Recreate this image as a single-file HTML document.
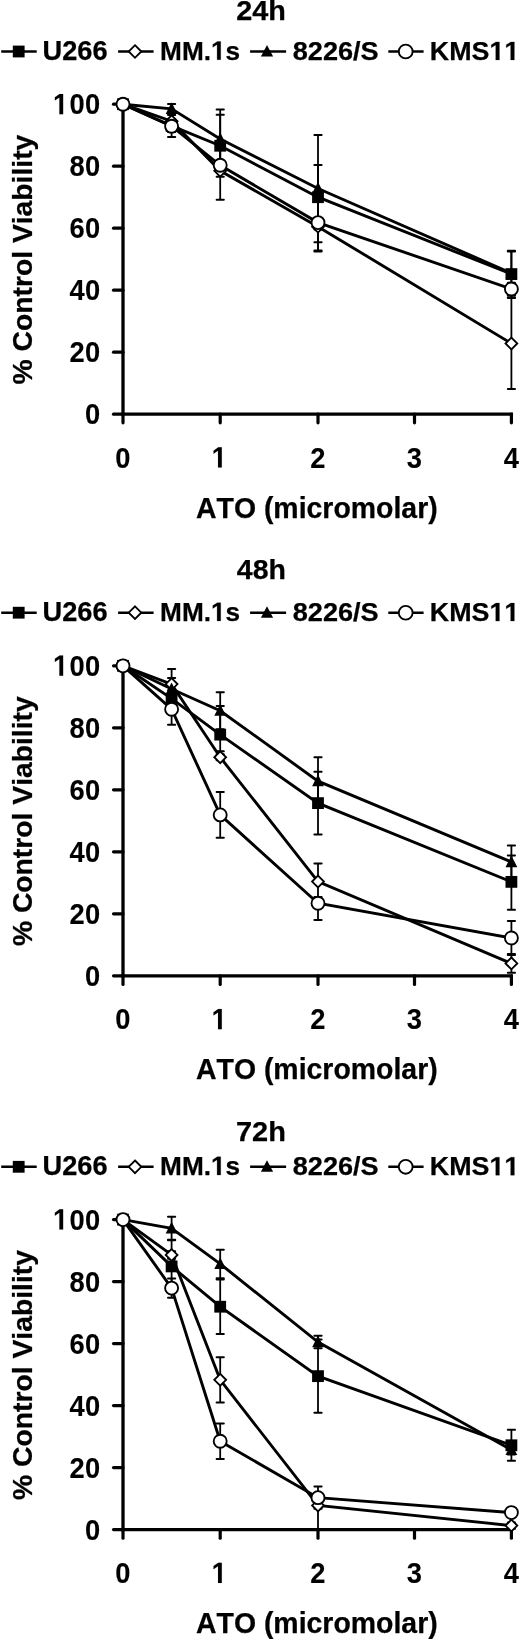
<!DOCTYPE html>
<html><head><meta charset="utf-8"><title>ATO viability</title><style>
html,body{margin:0;padding:0;background:#fff;}
body{width:520px;height:1639px;overflow:hidden;}
svg{display:block;will-change:transform;}
text{font-family:"Liberation Sans",sans-serif;font-weight:bold;fill:#000;stroke:#000;stroke-width:0.25;stroke-linejoin:round;font-kerning:none;}
line,polyline{stroke:#000;}
rect,path{fill:#000;}
.o{fill:#fff;stroke:#000;stroke-width:1.85;}
rect.c{fill:#fff;}
.h{fill:none;stroke:none;}
text.d,path.g.gd{stroke-width:0.1;}
path.g{fill:#000;stroke:#000;stroke-width:0.25;stroke-linejoin:round;vector-effect:non-scaling-stroke;}
</style></head><body>
<svg width="520" height="1639" viewBox="0 0 520 1639">
<rect class="c" width="520" height="1639"/>
<text x="236.25" y="20.35" font-size="27.46" textLength="49.69" lengthAdjust="spacingAndGlyphs">24h</text>
<line x1="1.2" y1="51.5" x2="36.7" y2="51.5" stroke-width="2.5"/>
<rect x="12.80" y="45.60" width="11.80" height="11.80"/>
<text x="42.62" y="59.69" font-size="26.84" textLength="65.02" lengthAdjust="spacingAndGlyphs">U266</text>
<line x1="118.1" y1="51.5" x2="153.6" y2="51.5" stroke-width="2.5"/>
<path class="o" d="M135.00 45.20L141.30 51.50L135.00 57.80L128.70 51.50Z"/>
<text x="160.10" y="59.69" font-size="26.51" textLength="80.03" lengthAdjust="spacingAndGlyphs">MM.<tspan class="h">1</tspan>s</text>
<line x1="250.1" y1="51.5" x2="286.1" y2="51.5" stroke-width="2.5"/>
<path d="M267.00 45.06L273.10 56.56L260.90 56.56Z"/>
<text x="292.79" y="59.64" font-size="25.25" textLength="85.92" lengthAdjust="spacingAndGlyphs">8226/S</text>
<line x1="388.3" y1="51.5" x2="423.6" y2="51.5" stroke-width="2.5"/>
<circle class="o" cx="405.70" cy="51.50" r="6.90"/>
<text x="429.86" y="59.89" font-size="26.13" textLength="89.47" lengthAdjust="spacingAndGlyphs">KMS<tspan class="h">1</tspan><tspan class="h">1</tspan></text>
<line x1="123.0" y1="103.20" x2="123.0" y2="415.85" stroke-width="3.3"/>
<line x1="121.35" y1="414.20" x2="513.05" y2="414.20" stroke-width="3.3"/>
<line x1="113.50" y1="414.20" x2="123.0" y2="414.20" stroke-width="3.2" stroke-linecap="round"/>
<text class="d" transform="matrix(0.93 0 0 1 0 0)" x="91.29" y="424.20" font-size="29.40">0</text>
<line x1="113.50" y1="352.20" x2="123.0" y2="352.20" stroke-width="3.2" stroke-linecap="round"/>
<text class="d" transform="matrix(0.93 0 0 1 0 0)" x="74.62 91.29" y="362.20" font-size="29.40">20</text>
<line x1="113.50" y1="290.20" x2="123.0" y2="290.20" stroke-width="3.2" stroke-linecap="round"/>
<text class="d" transform="matrix(0.93 0 0 1 0 0)" x="74.62 91.29" y="300.20" font-size="29.40">40</text>
<line x1="113.50" y1="228.20" x2="123.0" y2="228.20" stroke-width="3.2" stroke-linecap="round"/>
<text class="d" transform="matrix(0.93 0 0 1 0 0)" x="74.62 91.29" y="238.20" font-size="29.40">60</text>
<line x1="113.50" y1="166.20" x2="123.0" y2="166.20" stroke-width="3.2" stroke-linecap="round"/>
<text class="d" transform="matrix(0.93 0 0 1 0 0)" x="74.62 91.29" y="176.20" font-size="29.40">80</text>
<line x1="113.50" y1="104.20" x2="123.0" y2="104.20" stroke-width="3.2" stroke-linecap="round"/>
<text class="d" transform="matrix(0.93 0 0 1 0 0)" x="56.99 74.62 91.29" y="114.20" font-size="29.40"><tspan class="h">1</tspan>00</text>
<line x1="123.00" y1="414.20" x2="123.00" y2="422.80" stroke-width="3.2" stroke-linecap="round"/>
<text class="d" transform="matrix(0.93 0 0 1 0 0)" x="124.03" y="467.60" font-size="29.40">0</text>
<line x1="220.20" y1="414.20" x2="220.20" y2="422.80" stroke-width="3.2" stroke-linecap="round"/>
<text class="d" transform="matrix(0.93 0 0 1 0 0)" x="227.58" y="467.60" font-size="29.40"><tspan class="h">1</tspan></text>
<line x1="318.00" y1="414.20" x2="318.00" y2="422.80" stroke-width="3.2" stroke-linecap="round"/>
<text class="d" transform="matrix(0.93 0 0 1 0 0)" x="333.71" y="467.60" font-size="29.40">2</text>
<line x1="414.50" y1="414.20" x2="414.50" y2="422.80" stroke-width="3.2" stroke-linecap="round"/>
<text class="d" transform="matrix(0.93 0 0 1 0 0)" x="437.47" y="467.60" font-size="29.40">3</text>
<line x1="511.40" y1="414.20" x2="511.40" y2="422.80" stroke-width="3.2" stroke-linecap="round"/>
<text class="d" transform="matrix(0.93 0 0 1 0 0)" x="541.67" y="467.60" font-size="29.40">4</text>
<text x="195.99" y="517.70" font-size="28.60" textLength="241.72" lengthAdjust="spacingAndGlyphs">ATO (micromolar)</text>
<text transform="translate(31.6 259.60) rotate(-90)" x="-124.93" y="0" font-size="28.3" textLength="249.86" lengthAdjust="spacingAndGlyphs">% Control Viability</text>
<line x1="171.60" y1="119.70" x2="171.60" y2="132.10" stroke-width="1.8"/>
<line x1="168.00" y1="119.70" x2="175.20" y2="119.70" stroke-width="2.0" stroke-linecap="round"/>
<line x1="168.00" y1="132.10" x2="175.20" y2="132.10" stroke-width="2.0" stroke-linecap="round"/>
<line x1="220.20" y1="114.74" x2="220.20" y2="176.74" stroke-width="1.8"/>
<line x1="216.60" y1="114.74" x2="223.80" y2="114.74" stroke-width="2.0" stroke-linecap="round"/>
<line x1="216.60" y1="176.74" x2="223.80" y2="176.74" stroke-width="2.0" stroke-linecap="round"/>
<line x1="318.00" y1="164.96" x2="318.00" y2="229.44" stroke-width="1.8"/>
<line x1="314.40" y1="164.96" x2="321.60" y2="164.96" stroke-width="2.0" stroke-linecap="round"/>
<line x1="314.40" y1="229.44" x2="321.60" y2="229.44" stroke-width="2.0" stroke-linecap="round"/>
<line x1="511.40" y1="250.83" x2="511.40" y2="297.33" stroke-width="1.8"/>
<line x1="507.80" y1="250.83" x2="515.00" y2="250.83" stroke-width="2.0" stroke-linecap="round"/>
<line x1="507.80" y1="297.33" x2="515.00" y2="297.33" stroke-width="2.0" stroke-linecap="round"/>
<line x1="171.60" y1="115.05" x2="171.60" y2="127.45" stroke-width="1.8"/>
<line x1="168.00" y1="115.05" x2="175.20" y2="115.05" stroke-width="2.0" stroke-linecap="round"/>
<line x1="168.00" y1="127.45" x2="175.20" y2="127.45" stroke-width="2.0" stroke-linecap="round"/>
<line x1="220.20" y1="142.02" x2="220.20" y2="199.68" stroke-width="1.8"/>
<line x1="216.60" y1="142.02" x2="223.80" y2="142.02" stroke-width="2.0" stroke-linecap="round"/>
<line x1="216.60" y1="199.68" x2="223.80" y2="199.68" stroke-width="2.0" stroke-linecap="round"/>
<line x1="318.00" y1="201.85" x2="318.00" y2="251.45" stroke-width="1.8"/>
<line x1="314.40" y1="201.85" x2="321.60" y2="201.85" stroke-width="2.0" stroke-linecap="round"/>
<line x1="314.40" y1="251.45" x2="321.60" y2="251.45" stroke-width="2.0" stroke-linecap="round"/>
<line x1="511.40" y1="297.95" x2="511.40" y2="389.09" stroke-width="1.8"/>
<line x1="507.80" y1="297.95" x2="515.00" y2="297.95" stroke-width="2.0" stroke-linecap="round"/>
<line x1="507.80" y1="389.09" x2="515.00" y2="389.09" stroke-width="2.0" stroke-linecap="round"/>
<line x1="171.60" y1="103.89" x2="171.60" y2="113.81" stroke-width="1.8"/>
<line x1="168.00" y1="103.89" x2="175.20" y2="103.89" stroke-width="2.0" stroke-linecap="round"/>
<line x1="168.00" y1="113.81" x2="175.20" y2="113.81" stroke-width="2.0" stroke-linecap="round"/>
<line x1="220.20" y1="109.47" x2="220.20" y2="168.37" stroke-width="1.8"/>
<line x1="216.60" y1="109.47" x2="223.80" y2="109.47" stroke-width="2.0" stroke-linecap="round"/>
<line x1="216.60" y1="168.37" x2="223.80" y2="168.37" stroke-width="2.0" stroke-linecap="round"/>
<line x1="318.00" y1="134.89" x2="318.00" y2="242.15" stroke-width="1.8"/>
<line x1="314.40" y1="134.89" x2="321.60" y2="134.89" stroke-width="2.0" stroke-linecap="round"/>
<line x1="314.40" y1="242.15" x2="321.60" y2="242.15" stroke-width="2.0" stroke-linecap="round"/>
<line x1="511.40" y1="251.45" x2="511.40" y2="294.85" stroke-width="1.8"/>
<line x1="507.80" y1="251.45" x2="515.00" y2="251.45" stroke-width="2.0" stroke-linecap="round"/>
<line x1="507.80" y1="294.85" x2="515.00" y2="294.85" stroke-width="2.0" stroke-linecap="round"/>
<line x1="171.60" y1="119.08" x2="171.60" y2="137.06" stroke-width="1.8"/>
<line x1="168.00" y1="119.08" x2="175.20" y2="119.08" stroke-width="2.0" stroke-linecap="round"/>
<line x1="168.00" y1="137.06" x2="175.20" y2="137.06" stroke-width="2.0" stroke-linecap="round"/>
<line x1="220.20" y1="160.62" x2="220.20" y2="169.92" stroke-width="1.8"/>
<line x1="216.60" y1="160.62" x2="223.80" y2="160.62" stroke-width="2.0" stroke-linecap="round"/>
<line x1="216.60" y1="169.92" x2="223.80" y2="169.92" stroke-width="2.0" stroke-linecap="round"/>
<line x1="318.00" y1="194.72" x2="318.00" y2="250.52" stroke-width="1.8"/>
<line x1="314.40" y1="194.72" x2="321.60" y2="194.72" stroke-width="2.0" stroke-linecap="round"/>
<line x1="314.40" y1="250.52" x2="321.60" y2="250.52" stroke-width="2.0" stroke-linecap="round"/>
<line x1="511.40" y1="282.76" x2="511.40" y2="295.16" stroke-width="1.8"/>
<line x1="507.80" y1="282.76" x2="515.00" y2="282.76" stroke-width="2.0" stroke-linecap="round"/>
<line x1="507.80" y1="295.16" x2="515.00" y2="295.16" stroke-width="2.0" stroke-linecap="round"/>
<polyline points="123.00,104.20 171.60,125.90 220.20,145.74 318.00,197.20 511.40,274.08" fill="none" stroke-width="2.9"/>
<polyline points="123.00,104.20 171.60,121.25 220.20,170.85 318.00,226.65 511.40,343.52" fill="none" stroke-width="2.9"/>
<polyline points="123.00,104.20 171.60,108.85 220.20,138.92 318.00,188.52 511.40,273.15" fill="none" stroke-width="2.9"/>
<polyline points="123.00,104.20 171.60,126.21 220.20,165.27 318.00,222.62 511.40,288.96" fill="none" stroke-width="2.9"/>
<rect x="117.10" y="98.30" width="11.80" height="11.80"/>
<rect x="165.70" y="120.00" width="11.80" height="11.80"/>
<rect x="214.30" y="139.84" width="11.80" height="11.80"/>
<rect x="312.10" y="191.30" width="11.80" height="11.80"/>
<rect x="505.50" y="268.18" width="11.80" height="11.80"/>
<path class="o" d="M123.00 98.30L128.90 104.20L123.00 110.10L117.10 104.20Z"/>
<path class="o" d="M171.60 115.35L177.50 121.25L171.60 127.15L165.70 121.25Z"/>
<path class="o" d="M220.20 164.95L226.10 170.85L220.20 176.75L214.30 170.85Z"/>
<path class="o" d="M318.00 220.75L323.90 226.65L318.00 232.55L312.10 226.65Z"/>
<path class="o" d="M511.40 337.62L517.30 343.52L511.40 349.42L505.50 343.52Z"/>
<path d="M123.00 97.70L128.90 109.30L117.10 109.30Z"/>
<path d="M171.60 102.35L177.50 113.95L165.70 113.95Z"/>
<path d="M220.20 132.42L226.10 144.02L214.30 144.02Z"/>
<path d="M318.00 182.02L323.90 193.62L312.10 193.62Z"/>
<path d="M511.40 266.65L517.30 278.25L505.50 278.25Z"/>
<circle class="o" cx="123.00" cy="104.20" r="6.50"/>
<circle class="o" cx="171.60" cy="126.21" r="6.50"/>
<circle class="o" cx="220.20" cy="165.27" r="6.50"/>
<circle class="o" cx="318.00" cy="222.62" r="6.50"/>
<circle class="o" cx="511.40" cy="288.96" r="6.50"/>
<text x="236.82" y="579.49" font-size="27.10" textLength="49.10" lengthAdjust="spacingAndGlyphs">48h</text>
<line x1="1.2" y1="612.7" x2="36.7" y2="612.7" stroke-width="2.5"/>
<rect x="12.80" y="606.80" width="11.80" height="11.80"/>
<text x="42.62" y="620.89" font-size="26.84" textLength="65.02" lengthAdjust="spacingAndGlyphs">U266</text>
<line x1="118.1" y1="612.7" x2="153.6" y2="612.7" stroke-width="2.5"/>
<path class="o" d="M135.00 606.40L141.30 612.70L135.00 619.00L128.70 612.70Z"/>
<text x="160.10" y="620.89" font-size="26.51" textLength="80.03" lengthAdjust="spacingAndGlyphs">MM.<tspan class="h">1</tspan>s</text>
<line x1="250.1" y1="612.7" x2="286.1" y2="612.7" stroke-width="2.5"/>
<path d="M267.00 606.26L273.10 617.76L260.90 617.76Z"/>
<text x="292.79" y="620.84" font-size="25.25" textLength="85.92" lengthAdjust="spacingAndGlyphs">8226/S</text>
<line x1="388.3" y1="612.7" x2="423.6" y2="612.7" stroke-width="2.5"/>
<circle class="o" cx="405.70" cy="612.70" r="6.90"/>
<text x="429.86" y="621.09" font-size="26.13" textLength="89.47" lengthAdjust="spacingAndGlyphs">KMS<tspan class="h">1</tspan><tspan class="h">1</tspan></text>
<line x1="123.0" y1="664.80" x2="123.0" y2="977.45" stroke-width="3.3"/>
<line x1="121.35" y1="975.80" x2="513.05" y2="975.80" stroke-width="3.3"/>
<line x1="113.50" y1="975.80" x2="123.0" y2="975.80" stroke-width="3.2" stroke-linecap="round"/>
<text class="d" transform="matrix(0.93 0 0 1 0 0)" x="91.29" y="985.80" font-size="29.40">0</text>
<line x1="113.50" y1="913.80" x2="123.0" y2="913.80" stroke-width="3.2" stroke-linecap="round"/>
<text class="d" transform="matrix(0.93 0 0 1 0 0)" x="74.62 91.29" y="923.80" font-size="29.40">20</text>
<line x1="113.50" y1="851.80" x2="123.0" y2="851.80" stroke-width="3.2" stroke-linecap="round"/>
<text class="d" transform="matrix(0.93 0 0 1 0 0)" x="74.62 91.29" y="861.80" font-size="29.40">40</text>
<line x1="113.50" y1="789.80" x2="123.0" y2="789.80" stroke-width="3.2" stroke-linecap="round"/>
<text class="d" transform="matrix(0.93 0 0 1 0 0)" x="74.62 91.29" y="799.80" font-size="29.40">60</text>
<line x1="113.50" y1="727.80" x2="123.0" y2="727.80" stroke-width="3.2" stroke-linecap="round"/>
<text class="d" transform="matrix(0.93 0 0 1 0 0)" x="74.62 91.29" y="737.80" font-size="29.40">80</text>
<line x1="113.50" y1="665.80" x2="123.0" y2="665.80" stroke-width="3.2" stroke-linecap="round"/>
<text class="d" transform="matrix(0.93 0 0 1 0 0)" x="56.99 74.62 91.29" y="675.80" font-size="29.40"><tspan class="h">1</tspan>00</text>
<line x1="123.00" y1="975.80" x2="123.00" y2="984.40" stroke-width="3.2" stroke-linecap="round"/>
<text class="d" transform="matrix(0.93 0 0 1 0 0)" x="124.03" y="1029.20" font-size="29.40">0</text>
<line x1="220.20" y1="975.80" x2="220.20" y2="984.40" stroke-width="3.2" stroke-linecap="round"/>
<text class="d" transform="matrix(0.93 0 0 1 0 0)" x="227.58" y="1029.20" font-size="29.40"><tspan class="h">1</tspan></text>
<line x1="318.00" y1="975.80" x2="318.00" y2="984.40" stroke-width="3.2" stroke-linecap="round"/>
<text class="d" transform="matrix(0.93 0 0 1 0 0)" x="333.71" y="1029.20" font-size="29.40">2</text>
<line x1="414.50" y1="975.80" x2="414.50" y2="984.40" stroke-width="3.2" stroke-linecap="round"/>
<text class="d" transform="matrix(0.93 0 0 1 0 0)" x="437.47" y="1029.20" font-size="29.40">3</text>
<line x1="511.40" y1="975.80" x2="511.40" y2="984.40" stroke-width="3.2" stroke-linecap="round"/>
<text class="d" transform="matrix(0.93 0 0 1 0 0)" x="541.67" y="1029.20" font-size="29.40">4</text>
<text x="195.99" y="1079.20" font-size="28.60" textLength="241.72" lengthAdjust="spacingAndGlyphs">ATO (micromolar)</text>
<text transform="translate(31.6 821.20) rotate(-90)" x="-124.93" y="0" font-size="28.3" textLength="249.86" lengthAdjust="spacingAndGlyphs">% Control Viability</text>
<line x1="171.60" y1="692.46" x2="171.60" y2="704.86" stroke-width="1.8"/>
<line x1="168.00" y1="692.46" x2="175.20" y2="692.46" stroke-width="2.0" stroke-linecap="round"/>
<line x1="168.00" y1="704.86" x2="175.20" y2="704.86" stroke-width="2.0" stroke-linecap="round"/>
<line x1="220.20" y1="706.10" x2="220.20" y2="751.36" stroke-width="1.8"/>
<line x1="216.60" y1="706.10" x2="223.80" y2="706.10" stroke-width="2.0" stroke-linecap="round"/>
<line x1="216.60" y1="751.36" x2="223.80" y2="751.36" stroke-width="2.0" stroke-linecap="round"/>
<line x1="318.00" y1="771.82" x2="318.00" y2="834.44" stroke-width="1.8"/>
<line x1="314.40" y1="771.82" x2="321.60" y2="771.82" stroke-width="2.0" stroke-linecap="round"/>
<line x1="314.40" y1="834.44" x2="321.60" y2="834.44" stroke-width="2.0" stroke-linecap="round"/>
<line x1="511.40" y1="855.52" x2="511.40" y2="909.77" stroke-width="1.8"/>
<line x1="507.80" y1="855.52" x2="515.00" y2="855.52" stroke-width="2.0" stroke-linecap="round"/>
<line x1="507.80" y1="909.77" x2="515.00" y2="909.77" stroke-width="2.0" stroke-linecap="round"/>
<line x1="171.60" y1="677.89" x2="171.60" y2="690.29" stroke-width="1.8"/>
<line x1="168.00" y1="677.89" x2="175.20" y2="677.89" stroke-width="2.0" stroke-linecap="round"/>
<line x1="168.00" y1="690.29" x2="175.20" y2="690.29" stroke-width="2.0" stroke-linecap="round"/>
<line x1="220.20" y1="754.15" x2="220.20" y2="760.35" stroke-width="1.8"/>
<line x1="216.60" y1="754.15" x2="223.80" y2="754.15" stroke-width="2.0" stroke-linecap="round"/>
<line x1="216.60" y1="760.35" x2="223.80" y2="760.35" stroke-width="2.0" stroke-linecap="round"/>
<line x1="318.00" y1="863.58" x2="318.00" y2="899.54" stroke-width="1.8"/>
<line x1="314.40" y1="863.58" x2="321.60" y2="863.58" stroke-width="2.0" stroke-linecap="round"/>
<line x1="314.40" y1="899.54" x2="321.60" y2="899.54" stroke-width="2.0" stroke-linecap="round"/>
<line x1="511.40" y1="954.10" x2="511.40" y2="972.70" stroke-width="1.8"/>
<line x1="507.80" y1="954.10" x2="515.00" y2="954.10" stroke-width="2.0" stroke-linecap="round"/>
<line x1="507.80" y1="972.70" x2="515.00" y2="972.70" stroke-width="2.0" stroke-linecap="round"/>
<line x1="171.60" y1="668.90" x2="171.60" y2="709.20" stroke-width="1.8"/>
<line x1="168.00" y1="668.90" x2="175.20" y2="668.90" stroke-width="2.0" stroke-linecap="round"/>
<line x1="168.00" y1="709.20" x2="175.20" y2="709.20" stroke-width="2.0" stroke-linecap="round"/>
<line x1="220.20" y1="692.15" x2="220.20" y2="729.35" stroke-width="1.8"/>
<line x1="216.60" y1="692.15" x2="223.80" y2="692.15" stroke-width="2.0" stroke-linecap="round"/>
<line x1="216.60" y1="729.35" x2="223.80" y2="729.35" stroke-width="2.0" stroke-linecap="round"/>
<line x1="318.00" y1="757.25" x2="318.00" y2="804.99" stroke-width="1.8"/>
<line x1="314.40" y1="757.25" x2="321.60" y2="757.25" stroke-width="2.0" stroke-linecap="round"/>
<line x1="314.40" y1="804.99" x2="321.60" y2="804.99" stroke-width="2.0" stroke-linecap="round"/>
<line x1="511.40" y1="845.60" x2="511.40" y2="878.46" stroke-width="1.8"/>
<line x1="507.80" y1="845.60" x2="515.00" y2="845.60" stroke-width="2.0" stroke-linecap="round"/>
<line x1="507.80" y1="878.46" x2="515.00" y2="878.46" stroke-width="2.0" stroke-linecap="round"/>
<line x1="171.60" y1="693.70" x2="171.60" y2="724.70" stroke-width="1.8"/>
<line x1="168.00" y1="693.70" x2="175.20" y2="693.70" stroke-width="2.0" stroke-linecap="round"/>
<line x1="168.00" y1="724.70" x2="175.20" y2="724.70" stroke-width="2.0" stroke-linecap="round"/>
<line x1="220.20" y1="791.97" x2="220.20" y2="837.85" stroke-width="1.8"/>
<line x1="216.60" y1="791.97" x2="223.80" y2="791.97" stroke-width="2.0" stroke-linecap="round"/>
<line x1="216.60" y1="837.85" x2="223.80" y2="837.85" stroke-width="2.0" stroke-linecap="round"/>
<line x1="318.00" y1="897.06" x2="318.00" y2="920.00" stroke-width="1.8"/>
<line x1="314.40" y1="897.06" x2="321.60" y2="897.06" stroke-width="2.0" stroke-linecap="round"/>
<line x1="314.40" y1="920.00" x2="321.60" y2="920.00" stroke-width="2.0" stroke-linecap="round"/>
<line x1="511.40" y1="920.93" x2="511.40" y2="955.03" stroke-width="1.8"/>
<line x1="507.80" y1="920.93" x2="515.00" y2="920.93" stroke-width="2.0" stroke-linecap="round"/>
<line x1="507.80" y1="955.03" x2="515.00" y2="955.03" stroke-width="2.0" stroke-linecap="round"/>
<polyline points="123.00,665.80 171.60,698.66 220.20,734.62 318.00,803.13 511.40,881.87" fill="none" stroke-width="2.9"/>
<polyline points="123.00,665.80 171.60,684.09 220.20,757.25 318.00,881.56 511.40,963.40" fill="none" stroke-width="2.9"/>
<polyline points="123.00,665.80 171.60,689.05 220.20,710.75 318.00,781.12 511.40,862.03" fill="none" stroke-width="2.9"/>
<polyline points="123.00,665.80 171.60,709.20 220.20,814.91 318.00,903.26 511.40,937.98" fill="none" stroke-width="2.9"/>
<rect x="117.10" y="659.90" width="11.80" height="11.80"/>
<rect x="165.70" y="692.76" width="11.80" height="11.80"/>
<rect x="214.30" y="728.72" width="11.80" height="11.80"/>
<rect x="312.10" y="797.23" width="11.80" height="11.80"/>
<rect x="505.50" y="875.97" width="11.80" height="11.80"/>
<path class="o" d="M123.00 659.90L128.90 665.80L123.00 671.70L117.10 665.80Z"/>
<path class="o" d="M171.60 678.19L177.50 684.09L171.60 689.99L165.70 684.09Z"/>
<path class="o" d="M220.20 751.35L226.10 757.25L220.20 763.15L214.30 757.25Z"/>
<path class="o" d="M318.00 875.66L323.90 881.56L318.00 887.46L312.10 881.56Z"/>
<path class="o" d="M511.40 957.50L517.30 963.40L511.40 969.30L505.50 963.40Z"/>
<path d="M123.00 659.30L128.90 670.90L117.10 670.90Z"/>
<path d="M171.60 682.55L177.50 694.15L165.70 694.15Z"/>
<path d="M220.20 704.25L226.10 715.85L214.30 715.85Z"/>
<path d="M318.00 774.62L323.90 786.22L312.10 786.22Z"/>
<path d="M511.40 855.53L517.30 867.13L505.50 867.13Z"/>
<circle class="o" cx="123.00" cy="665.80" r="6.50"/>
<circle class="o" cx="171.60" cy="709.20" r="6.50"/>
<circle class="o" cx="220.20" cy="814.91" r="6.50"/>
<circle class="o" cx="318.00" cy="903.26" r="6.50"/>
<circle class="o" cx="511.40" cy="937.98" r="6.50"/>
<text x="236.00" y="1140.95" font-size="27.46" textLength="49.94" lengthAdjust="spacingAndGlyphs">72h</text>
<line x1="1.2" y1="1166.8" x2="36.7" y2="1166.8" stroke-width="2.5"/>
<rect x="12.80" y="1160.90" width="11.80" height="11.80"/>
<text x="42.62" y="1174.99" font-size="26.84" textLength="65.02" lengthAdjust="spacingAndGlyphs">U266</text>
<line x1="118.1" y1="1166.8" x2="153.6" y2="1166.8" stroke-width="2.5"/>
<path class="o" d="M135.00 1160.50L141.30 1166.80L135.00 1173.10L128.70 1166.80Z"/>
<text x="160.10" y="1174.99" font-size="26.51" textLength="80.03" lengthAdjust="spacingAndGlyphs">MM.<tspan class="h">1</tspan>s</text>
<line x1="250.1" y1="1166.8" x2="286.1" y2="1166.8" stroke-width="2.5"/>
<path d="M267.00 1160.36L273.10 1171.86L260.90 1171.86Z"/>
<text x="292.79" y="1174.94" font-size="25.25" textLength="85.92" lengthAdjust="spacingAndGlyphs">8226/S</text>
<line x1="388.3" y1="1166.8" x2="423.6" y2="1166.8" stroke-width="2.5"/>
<circle class="o" cx="405.70" cy="1166.80" r="6.90"/>
<text x="429.86" y="1175.19" font-size="26.13" textLength="89.47" lengthAdjust="spacingAndGlyphs">KMS<tspan class="h">1</tspan><tspan class="h">1</tspan></text>
<line x1="123.0" y1="1218.60" x2="123.0" y2="1531.25" stroke-width="3.3"/>
<line x1="121.35" y1="1529.60" x2="513.05" y2="1529.60" stroke-width="3.3"/>
<line x1="113.50" y1="1529.60" x2="123.0" y2="1529.60" stroke-width="3.2" stroke-linecap="round"/>
<text class="d" transform="matrix(0.93 0 0 1 0 0)" x="91.29" y="1539.60" font-size="29.40">0</text>
<line x1="113.50" y1="1467.60" x2="123.0" y2="1467.60" stroke-width="3.2" stroke-linecap="round"/>
<text class="d" transform="matrix(0.93 0 0 1 0 0)" x="74.62 91.29" y="1477.60" font-size="29.40">20</text>
<line x1="113.50" y1="1405.60" x2="123.0" y2="1405.60" stroke-width="3.2" stroke-linecap="round"/>
<text class="d" transform="matrix(0.93 0 0 1 0 0)" x="74.62 91.29" y="1415.60" font-size="29.40">40</text>
<line x1="113.50" y1="1343.60" x2="123.0" y2="1343.60" stroke-width="3.2" stroke-linecap="round"/>
<text class="d" transform="matrix(0.93 0 0 1 0 0)" x="74.62 91.29" y="1353.60" font-size="29.40">60</text>
<line x1="113.50" y1="1281.60" x2="123.0" y2="1281.60" stroke-width="3.2" stroke-linecap="round"/>
<text class="d" transform="matrix(0.93 0 0 1 0 0)" x="74.62 91.29" y="1291.60" font-size="29.40">80</text>
<line x1="113.50" y1="1219.60" x2="123.0" y2="1219.60" stroke-width="3.2" stroke-linecap="round"/>
<text class="d" transform="matrix(0.93 0 0 1 0 0)" x="56.99 74.62 91.29" y="1229.60" font-size="29.40"><tspan class="h">1</tspan>00</text>
<line x1="123.00" y1="1529.60" x2="123.00" y2="1538.20" stroke-width="3.2" stroke-linecap="round"/>
<text class="d" transform="matrix(0.93 0 0 1 0 0)" x="124.03" y="1583.00" font-size="29.40">0</text>
<line x1="220.20" y1="1529.60" x2="220.20" y2="1538.20" stroke-width="3.2" stroke-linecap="round"/>
<text class="d" transform="matrix(0.93 0 0 1 0 0)" x="227.58" y="1583.00" font-size="29.40"><tspan class="h">1</tspan></text>
<line x1="318.00" y1="1529.60" x2="318.00" y2="1538.20" stroke-width="3.2" stroke-linecap="round"/>
<text class="d" transform="matrix(0.93 0 0 1 0 0)" x="333.71" y="1583.00" font-size="29.40">2</text>
<line x1="414.50" y1="1529.60" x2="414.50" y2="1538.20" stroke-width="3.2" stroke-linecap="round"/>
<text class="d" transform="matrix(0.93 0 0 1 0 0)" x="437.47" y="1583.00" font-size="29.40">3</text>
<line x1="511.40" y1="1529.60" x2="511.40" y2="1538.20" stroke-width="3.2" stroke-linecap="round"/>
<text class="d" transform="matrix(0.93 0 0 1 0 0)" x="541.67" y="1583.00" font-size="29.40">4</text>
<text x="195.99" y="1632.50" font-size="28.60" textLength="241.72" lengthAdjust="spacingAndGlyphs">ATO (micromolar)</text>
<text transform="translate(31.6 1375.00) rotate(-90)" x="-124.93" y="0" font-size="28.3" textLength="249.86" lengthAdjust="spacingAndGlyphs">% Control Viability</text>
<line x1="171.60" y1="1240.37" x2="171.60" y2="1292.45" stroke-width="1.8"/>
<line x1="168.00" y1="1240.37" x2="175.20" y2="1240.37" stroke-width="2.0" stroke-linecap="round"/>
<line x1="168.00" y1="1292.45" x2="175.20" y2="1292.45" stroke-width="2.0" stroke-linecap="round"/>
<line x1="220.20" y1="1279.43" x2="220.20" y2="1333.99" stroke-width="1.8"/>
<line x1="216.60" y1="1279.43" x2="223.80" y2="1279.43" stroke-width="2.0" stroke-linecap="round"/>
<line x1="216.60" y1="1333.99" x2="223.80" y2="1333.99" stroke-width="2.0" stroke-linecap="round"/>
<line x1="318.00" y1="1339.57" x2="318.00" y2="1412.73" stroke-width="1.8"/>
<line x1="314.40" y1="1339.57" x2="321.60" y2="1339.57" stroke-width="2.0" stroke-linecap="round"/>
<line x1="314.40" y1="1412.73" x2="321.60" y2="1412.73" stroke-width="2.0" stroke-linecap="round"/>
<line x1="511.40" y1="1429.78" x2="511.40" y2="1460.78" stroke-width="1.8"/>
<line x1="507.80" y1="1429.78" x2="515.00" y2="1429.78" stroke-width="2.0" stroke-linecap="round"/>
<line x1="507.80" y1="1460.78" x2="515.00" y2="1460.78" stroke-width="2.0" stroke-linecap="round"/>
<line x1="171.60" y1="1251.22" x2="171.60" y2="1258.66" stroke-width="1.8"/>
<line x1="168.00" y1="1251.22" x2="175.20" y2="1251.22" stroke-width="2.0" stroke-linecap="round"/>
<line x1="168.00" y1="1258.66" x2="175.20" y2="1258.66" stroke-width="2.0" stroke-linecap="round"/>
<line x1="220.20" y1="1357.24" x2="220.20" y2="1402.50" stroke-width="1.8"/>
<line x1="216.60" y1="1357.24" x2="223.80" y2="1357.24" stroke-width="2.0" stroke-linecap="round"/>
<line x1="216.60" y1="1402.50" x2="223.80" y2="1402.50" stroke-width="2.0" stroke-linecap="round"/>
<line x1="318.00" y1="1502.32" x2="318.00" y2="1529.60" stroke-width="1.8"/>
<line x1="314.40" y1="1502.32" x2="321.60" y2="1502.32" stroke-width="2.0" stroke-linecap="round"/>
<line x1="314.40" y1="1529.60" x2="321.60" y2="1529.60" stroke-width="2.0" stroke-linecap="round"/>
<line x1="511.40" y1="1522.47" x2="511.40" y2="1528.67" stroke-width="1.8"/>
<line x1="507.80" y1="1522.47" x2="515.00" y2="1522.47" stroke-width="2.0" stroke-linecap="round"/>
<line x1="507.80" y1="1528.67" x2="515.00" y2="1528.67" stroke-width="2.0" stroke-linecap="round"/>
<line x1="171.60" y1="1216.81" x2="171.60" y2="1239.75" stroke-width="1.8"/>
<line x1="168.00" y1="1216.81" x2="175.20" y2="1216.81" stroke-width="2.0" stroke-linecap="round"/>
<line x1="168.00" y1="1239.75" x2="175.20" y2="1239.75" stroke-width="2.0" stroke-linecap="round"/>
<line x1="220.20" y1="1249.67" x2="220.20" y2="1278.19" stroke-width="1.8"/>
<line x1="216.60" y1="1249.67" x2="223.80" y2="1249.67" stroke-width="2.0" stroke-linecap="round"/>
<line x1="216.60" y1="1278.19" x2="223.80" y2="1278.19" stroke-width="2.0" stroke-linecap="round"/>
<line x1="318.00" y1="1335.85" x2="318.00" y2="1348.25" stroke-width="1.8"/>
<line x1="314.40" y1="1335.85" x2="321.60" y2="1335.85" stroke-width="2.0" stroke-linecap="round"/>
<line x1="314.40" y1="1348.25" x2="321.60" y2="1348.25" stroke-width="2.0" stroke-linecap="round"/>
<line x1="511.40" y1="1445.28" x2="511.40" y2="1454.58" stroke-width="1.8"/>
<line x1="507.80" y1="1445.28" x2="515.00" y2="1445.28" stroke-width="2.0" stroke-linecap="round"/>
<line x1="507.80" y1="1454.58" x2="515.00" y2="1454.58" stroke-width="2.0" stroke-linecap="round"/>
<line x1="171.60" y1="1278.50" x2="171.60" y2="1297.72" stroke-width="1.8"/>
<line x1="168.00" y1="1278.50" x2="175.20" y2="1278.50" stroke-width="2.0" stroke-linecap="round"/>
<line x1="168.00" y1="1297.72" x2="175.20" y2="1297.72" stroke-width="2.0" stroke-linecap="round"/>
<line x1="220.20" y1="1423.58" x2="220.20" y2="1458.92" stroke-width="1.8"/>
<line x1="216.60" y1="1423.58" x2="223.80" y2="1423.58" stroke-width="2.0" stroke-linecap="round"/>
<line x1="216.60" y1="1458.92" x2="223.80" y2="1458.92" stroke-width="2.0" stroke-linecap="round"/>
<line x1="318.00" y1="1486.51" x2="318.00" y2="1508.83" stroke-width="1.8"/>
<line x1="314.40" y1="1486.51" x2="321.60" y2="1486.51" stroke-width="2.0" stroke-linecap="round"/>
<line x1="314.40" y1="1508.83" x2="321.60" y2="1508.83" stroke-width="2.0" stroke-linecap="round"/>
<line x1="511.40" y1="1509.45" x2="511.40" y2="1515.65" stroke-width="1.8"/>
<line x1="507.80" y1="1509.45" x2="515.00" y2="1509.45" stroke-width="2.0" stroke-linecap="round"/>
<line x1="507.80" y1="1515.65" x2="515.00" y2="1515.65" stroke-width="2.0" stroke-linecap="round"/>
<polyline points="123.00,1219.60 171.60,1266.41 220.20,1306.71 318.00,1376.15 511.40,1445.28" fill="none" stroke-width="2.9"/>
<polyline points="123.00,1219.60 171.60,1254.94 220.20,1379.87 318.00,1505.42 511.40,1525.57" fill="none" stroke-width="2.9"/>
<polyline points="123.00,1219.60 171.60,1228.28 220.20,1263.93 318.00,1342.05 511.40,1449.93" fill="none" stroke-width="2.9"/>
<polyline points="123.00,1219.60 171.60,1288.11 220.20,1441.25 318.00,1497.67 511.40,1512.55" fill="none" stroke-width="2.9"/>
<rect x="117.10" y="1213.70" width="11.80" height="11.80"/>
<rect x="165.70" y="1260.51" width="11.80" height="11.80"/>
<rect x="214.30" y="1300.81" width="11.80" height="11.80"/>
<rect x="312.10" y="1370.25" width="11.80" height="11.80"/>
<rect x="505.50" y="1439.38" width="11.80" height="11.80"/>
<path class="o" d="M123.00 1213.70L128.90 1219.60L123.00 1225.50L117.10 1219.60Z"/>
<path class="o" d="M171.60 1249.04L177.50 1254.94L171.60 1260.84L165.70 1254.94Z"/>
<path class="o" d="M220.20 1373.97L226.10 1379.87L220.20 1385.77L214.30 1379.87Z"/>
<path class="o" d="M318.00 1499.52L323.90 1505.42L318.00 1511.32L312.10 1505.42Z"/>
<path class="o" d="M511.40 1519.67L517.30 1525.57L511.40 1531.47L505.50 1525.57Z"/>
<path d="M123.00 1213.10L128.90 1224.70L117.10 1224.70Z"/>
<path d="M171.60 1221.78L177.50 1233.38L165.70 1233.38Z"/>
<path d="M220.20 1257.43L226.10 1269.03L214.30 1269.03Z"/>
<path d="M318.00 1335.55L323.90 1347.15L312.10 1347.15Z"/>
<path d="M511.40 1443.43L517.30 1455.03L505.50 1455.03Z"/>
<circle class="o" cx="123.00" cy="1219.60" r="6.50"/>
<circle class="o" cx="171.60" cy="1288.11" r="6.50"/>
<circle class="o" cx="220.20" cy="1441.25" r="6.50"/>
<circle class="o" cx="318.00" cy="1497.67" r="6.50"/>
<circle class="o" cx="511.40" cy="1512.55" r="6.50"/>
<path class="g" transform="matrix(0.01279 0 0 -0.01295 211.00 59.69)" d="M478 0L478 1170L140 959L140 1180L493 1409L759 1409L759 0Z"/>
<path class="g" transform="matrix(0.01310 0 0 -0.01276 489.48 59.89)" d="M478 0L478 1170L140 959L140 1180L493 1409L759 1409L759 0Z"/>
<path class="g" transform="matrix(0.01310 0 0 -0.01276 504.41 59.89)" d="M478 0L478 1170L140 959L140 1180L493 1409L759 1409L759 0Z"/>
<path class="g gd" transform="matrix(0.01335 0 0 -0.01436 53.00 114.20)" d="M478 0L478 1170L140 959L140 1180L493 1409L759 1409L759 0Z"/>
<path class="g gd" transform="matrix(0.01335 0 0 -0.01436 211.65 467.60)" d="M478 0L478 1170L140 959L140 1180L493 1409L759 1409L759 0Z"/>
<path class="g" transform="matrix(0.01279 0 0 -0.01295 211.00 620.89)" d="M478 0L478 1170L140 959L140 1180L493 1409L759 1409L759 0Z"/>
<path class="g" transform="matrix(0.01310 0 0 -0.01276 489.48 621.09)" d="M478 0L478 1170L140 959L140 1180L493 1409L759 1409L759 0Z"/>
<path class="g" transform="matrix(0.01310 0 0 -0.01276 504.41 621.09)" d="M478 0L478 1170L140 959L140 1180L493 1409L759 1409L759 0Z"/>
<path class="g gd" transform="matrix(0.01335 0 0 -0.01436 53.00 675.80)" d="M478 0L478 1170L140 959L140 1180L493 1409L759 1409L759 0Z"/>
<path class="g gd" transform="matrix(0.01335 0 0 -0.01436 211.65 1029.20)" d="M478 0L478 1170L140 959L140 1180L493 1409L759 1409L759 0Z"/>
<path class="g" transform="matrix(0.01279 0 0 -0.01295 211.00 1174.99)" d="M478 0L478 1170L140 959L140 1180L493 1409L759 1409L759 0Z"/>
<path class="g" transform="matrix(0.01310 0 0 -0.01276 489.48 1175.19)" d="M478 0L478 1170L140 959L140 1180L493 1409L759 1409L759 0Z"/>
<path class="g" transform="matrix(0.01310 0 0 -0.01276 504.41 1175.19)" d="M478 0L478 1170L140 959L140 1180L493 1409L759 1409L759 0Z"/>
<path class="g gd" transform="matrix(0.01335 0 0 -0.01436 53.00 1229.60)" d="M478 0L478 1170L140 959L140 1180L493 1409L759 1409L759 0Z"/>
<path class="g gd" transform="matrix(0.01335 0 0 -0.01436 211.65 1583.00)" d="M478 0L478 1170L140 959L140 1180L493 1409L759 1409L759 0Z"/>
</svg>
</body></html>
